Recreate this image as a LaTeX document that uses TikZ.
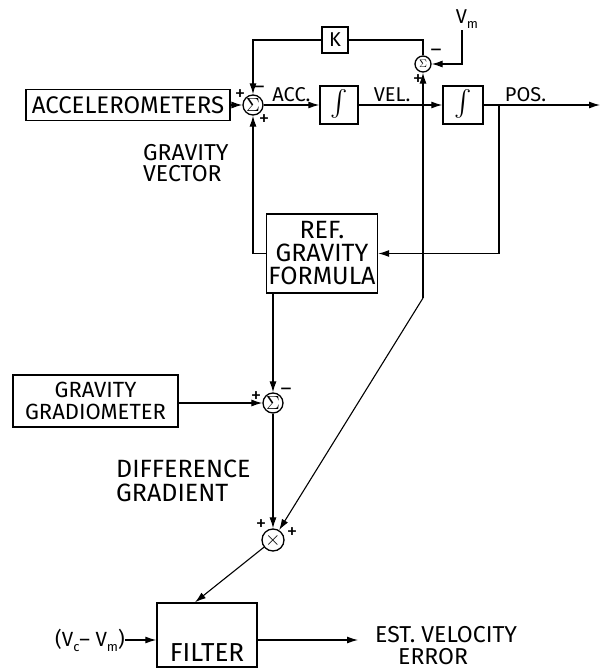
\documentclass[tikz,border=0pt]{standalone}
\usepackage{fontspec}
\usepackage{graphicx}
\usetikzlibrary{arrows.meta, positioning}
\newfontfamily\lett{Fira Sans}
\newcommand\lsub[1]{\raisebox{-5pt}{\fontsize{13}{13}\selectfont #1}}

\begin{document}
\begin{tikzpicture}[
	x=1pt, y=-1pt,
	box/.style={draw, line width=1.4pt, align=center, inner sep=2pt, font=\lett\fontsize{25}{23}\selectfont},
	sumnode/.style={draw, circle, line width=1.3pt, inner sep=0pt},
	lab/.style={font=\lett\fontsize{20}{20}\selectfont, inner sep=0pt},
	sgn/.style={font=\lett\fontsize{21}{21}\selectfont, inner sep=0pt},
	wire/.style={line width=1.1pt},
	arrow/.style={wire, -{Latex[length=11pt, width=7pt]}}
	]
	\useasboundingbox (0,0) rectangle (602,670);
	
	% --- Forward path ---
	\node[box, minimum width=204pt, minimum height=31pt, font=\lett\fontsize{24}{24}\selectfont] (acc) at (128,105) {ACCELEROMETERS};
	\node[sumnode, minimum size=20pt] (s1) at (253,105) {\scalebox{1.9}{$\Sigma$}};
	\node[box, minimum width=38pt, minimum height=38pt] (int1) at (339,105) {\scalebox{2.6}{$\int$}};
	\node[box, minimum width=40pt, minimum height=38pt] (int2) at (463,105) {\scalebox{2.6}{$\int$}};
	\coordinate (out) at (600,105);
	\coordinate (pk) at (499,105);
	
	% --- Velocity damping loop ---
	\node[box, minimum width=26pt, minimum height=26pt, font=\lett\fontsize{20}{20}\selectfont] (K) at (335,40) {K};
	\node[sumnode, minimum size=16pt] (ssum) at (423,64) {\scalebox{1.1}{$\Sigma$}};
	\node[lab] (vm) at (467,19) {V\lsub{m}};
	\coordinate (vmtop) at (462,30);
	\coordinate (bend) at (423,298);
	
	% --- Gravity model ---
	\node[box, minimum width=110pt, minimum height=79pt] (ref) at (322,253.5) {REF.\\GRAVITY\\FORMULA};
	\node[lab, align=left, anchor=west, font=\lett\fontsize{23}{21}\selectfont] (gv) at (143,163) {GRAVITY\\VECTOR};
	
	% --- Gradiometer ---
	\node[box, minimum width=165pt, minimum height=52pt, font=\lett\fontsize{22}{22}\selectfont] (grad) at (95.5,401) {GRAVITY\\GRADIOMETER};
	\node[sumnode, minimum size=20pt] (s2) at (273,403) {\scalebox{1.9}{$\Sigma$}};
	\node[lab, align=left, anchor=west, font=\lett\fontsize{25}{24}\selectfont] (dg) at (116,481) {DIFFERENCE\\GRADIENT};
	\node[sumnode, minimum size=22pt] (mul) at (273,540) {\scalebox{2}{$\times$}};
	
	% --- Filter ---
	\node[box, minimum width=100pt, minimum height=64pt, text height=52pt, text depth=0pt, font=\lett\fontsize{26}{26}\selectfont] (filter) at (207,635) {FILTER};
	\node[lab, font=\lett\fontsize{20.5}{20.5}\selectfont] (vin) at (90,640) {(V\lsub{c}– V\lsub{m})};
	\coordinate (estin) at (358,640);
	\node[lab, align=left, anchor=north west, font=\lett\fontsize{23}{22}\selectfont] (est) at (375,626) {EST. VELOCITY\\\hspace*{23pt}ERROR};
	
	% --- Signs ---
	\node[sgn] at (240,95) {+};
	\node[sgn] at (259,90) {–};
	\node[sgn] at (264,120) {+};
	\node[sgn] at (436,53) {–};
	\node[sgn] at (418,80) {+};
	\node[sgn] at (256,397) {+};
	\node[sgn] at (286,392) {–};
	\node[sgn] at (261,525) {+};
	\node[sgn] at (292,533) {+};
	
	% --- Arrows ---
	\draw[arrow] (acc) -- (s1);
	\draw[arrow] (s1) -- node[lab, above=3pt]{ACC.} (int1);
	\draw[arrow] (int1) -- node[lab, above=3pt, pos=0.4]{VEL.} (int2);
	\draw[arrow] (int2) -- node[lab, above=3pt, pos=0.36]{POS.} (out);
	
	\draw[arrow] (pk) |- (ref.east);
	\draw[arrow] (ref.west) -| (s1.south);
	
	\draw[wire] (ssum) |- (K);
	\draw[arrow] (K) -| (s1);
	\draw[arrow] (vmtop) |- (ssum);
	\draw[arrow] (bend) -- (ssum);
	\draw[arrow] (bend) -- (mul);
	
	\draw[arrow] (s2 |- ref.south) -- (s2);
	\draw[arrow] (grad.east |- s2) -- (s2);
	\draw[arrow] (s2) -- (mul);
	\draw[arrow] (mul) -- ([xshift=-12pt]filter.north);
	
	\draw[arrow] (vin) -- (vin -| filter.west);
	\draw[arrow] (filter.east |- vin) -- (estin);
	
\end{tikzpicture}
\end{document}
